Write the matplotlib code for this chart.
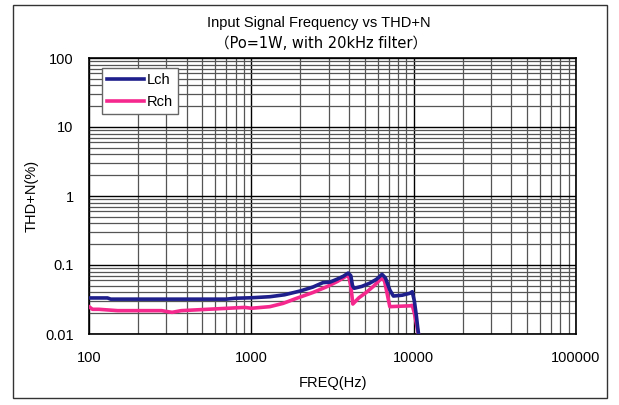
import matplotlib
matplotlib.use("Agg")
import matplotlib.pyplot as plt
from matplotlib.ticker import LogLocator, NullFormatter, FixedLocator
from matplotlib.patches import Rectangle

FONT = ['Liberation Sans', 'Noto Sans CJK JP', 'DejaVu Sans']
plt.rcParams['font.family'] = FONT

title_line1 = "Input Signal Frequency vs THD+N"
title_line2 = "（Po=1W, with 20kHz filter）"
x_label = "FREQ(Hz)"
y_label = "THD+N(%)"
x_ticks = [100, 1000, 10000, 100000]
x_tick_labels = ["100", "1000", "10000", "100000"]
y_ticks = [0.01, 0.1, 1, 10, 100]
y_tick_labels = ["0.01", "0.1", "1", "10", "100"]

lch_freq = [100, 130, 136, 700, 800, 1000, 1300, 1600, 2000, 2400, 2760, 3050,
            3360, 3700, 3950, 4100, 4200, 4300, 4800, 5360, 5900, 6380, 6700,
            7130, 7500, 8500, 9500, 9800, 10100, 10400, 10650, 10900]
lch_thd = [0.0333, 0.0333, 0.0320, 0.0320, 0.0330, 0.0335, 0.0347, 0.037, 0.042,
           0.048, 0.0555, 0.0565, 0.062, 0.069, 0.0765, 0.070, 0.050, 0.046, 0.049,
           0.0545, 0.062, 0.0732, 0.065, 0.0434, 0.0355, 0.0365, 0.039, 0.041,
           0.030, 0.018, 0.011, 0.008]

rch_freq = [100, 105, 115, 150, 280, 325, 370, 620, 912, 1000, 1300, 1570, 1900,
            2400, 2920, 3400, 3880, 3950, 4100, 4220, 4600, 5100, 5700, 6300,
            6600, 7130, 8000, 9500, 9800, 10100, 10400, 10700, 11000]
rch_thd = [0.0249, 0.0228, 0.0228, 0.0218, 0.0218, 0.0206, 0.0218, 0.0232, 0.0243,
           0.0236, 0.0249, 0.0278, 0.0329, 0.040, 0.0485, 0.058, 0.070, 0.0732,
           0.050, 0.0272, 0.0335, 0.040, 0.050, 0.0635, 0.060, 0.0249, 0.0252,
           0.0256, 0.026, 0.020, 0.014, 0.010, 0.008]

W, H = 619, 405
fig = plt.figure(figsize=(W / 100, H / 100), dpi=100)
fig.patch.set_facecolor('white')

# outer frame
fig.add_artist(Rectangle((13 / W, 1 - 398 / H), (607 - 13) / W, (398 - 5) / H,
                         transform=fig.transFigure, fill=False,
                         edgecolor='#333333', linewidth=1.0))

left, right, top, bottom = 89, 576, 58, 334
ax = fig.add_axes([left / W, 1 - bottom / H, (right - left) / W, (bottom - top) / H])
ax.set_xscale('log')
ax.set_yscale('log')
ax.set_xlim(100, 100000)
ax.set_ylim(0.01, 100)

ax.plot(lch_freq, lch_thd, color='#1e1e8c', linewidth=2.6, label='Lch',
        solid_joinstyle='round', zorder=4)
ax.plot(rch_freq, rch_thd, color='#f5288e', linewidth=2.6, label='Rch',
        solid_joinstyle='round', zorder=3)

ax.xaxis.set_major_locator(FixedLocator(x_ticks))
ax.yaxis.set_major_locator(FixedLocator(y_ticks))
ax.set_xticklabels(x_tick_labels)
ax.set_yticklabels(y_tick_labels)
ax.xaxis.set_minor_locator(LogLocator(base=10, subs=range(2, 10), numticks=20))
ax.yaxis.set_minor_locator(LogLocator(base=10, subs=range(2, 10), numticks=20))
ax.xaxis.set_minor_formatter(NullFormatter())
ax.yaxis.set_minor_formatter(NullFormatter())

ax.grid(True, which='major', color='black', linewidth=1.0, zorder=1)
ax.grid(True, which='minor', color='#555555', linewidth=0.9, zorder=1)
ax.set_axisbelow(True)

ax.tick_params(which='both', length=0, labelsize=10.5, colors='black')
ax.tick_params(axis='x', pad=12)
ax.tick_params(axis='y', pad=11)
for s in ax.spines.values():
    s.set_color('black')
    s.set_linewidth(1.2)

fig.text(333 / W, 1 - 383 / H, x_label, ha='center', va='center', fontsize=10.5)
fig.text(32 / W, 1 - 196 / H, y_label, ha='center', va='center', fontsize=10.5,
         rotation=90)

fig.text(319 / W, 1 - 23 / H, title_line1, ha='center', va='center', fontsize=10.5)
fig.text(321 / W, 1 - 44 / H, title_line2, ha='center', va='center', fontsize=10.5,
         family=['DejaVu Sans', 'Noto Sans CJK JP'])

leg = ax.legend(loc='upper left', bbox_to_anchor=(13 / (right - left), 1 - 10 / (bottom - top)),
                fontsize=10.5, frameon=True, fancybox=False, handlelength=2.5,
                borderpad=0.35, labelspacing=0.55, handletextpad=0.25, borderaxespad=0)
leg.get_frame().set_edgecolor('#666666')
leg.get_frame().set_linewidth(1.0)
leg.get_frame().set_alpha(1)

fig.savefig('out.png', dpi=100, facecolor='white')
